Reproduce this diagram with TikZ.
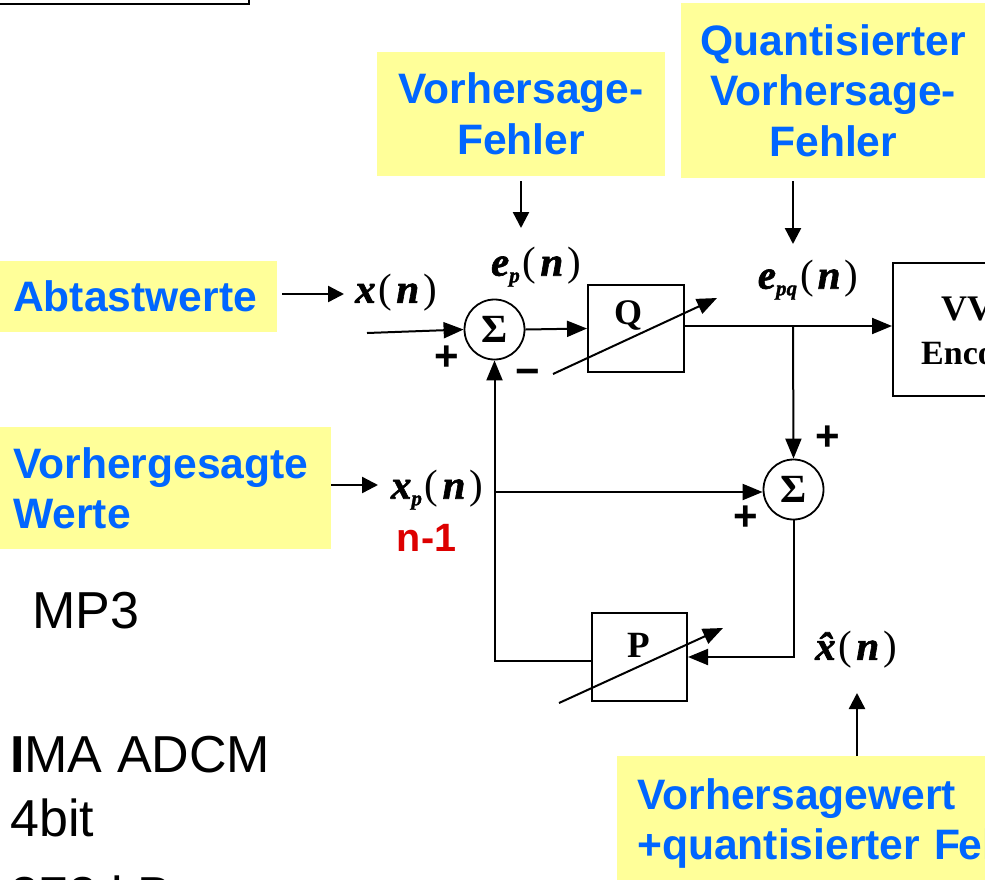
\documentclass[tikz,border=0pt]{standalone}
\usepackage{fontspec}
\setmainfont{Liberation Sans}
\newfontfamily\scanfont{Liberation Serif}
\newfontface\sigface[FakeBold=1.5]{Liberation Serif Bold Italic}
\usetikzlibrary{
  arrows.meta,
  positioning,
}
\definecolor{notefill}{HTML}{FFFF99}
\definecolor{noteblue}{HTML}{0066FF}
\definecolor{notered}{HTML}{DD0000}
\newcommand{\sigfull}[2]{{\sigface #1\raisebox{-.16em}{\fontsize{21}{21}\selectfont #2}{\scanfont\kern3pt(\kern4pt}n{\scanfont\kern4pt)}}}
\tikzset{
  note/.style={
    rectangle,
    fill=notefill,
    text=noteblue,
    inner xsep=0pt,
    inner ysep=0pt,
    font=\fontsize{42.6}{50.5}\selectfont\bfseries,
  },
  plain/.style={
    inner sep=0pt,
    font=\fontsize{52}{62}\selectfont,
  },
  block/.style={
    rectangle,
    draw=black,
    line width=2pt,
    inner sep=0pt,
  },
  sumnode/.style={
    circle,
    draw=black,
    line width=1.8pt,
    minimum size=60pt,
    inner sep=0pt,
    font=\fontsize{40}{40}\selectfont\scanfont\bfseries,
  },
  sig/.style={
    inner sep=0pt,
    font=\fontsize{41}{41}\selectfont,
  },
  sign/.style={
    inner sep=0pt,
    font=\fontsize{42}{42}\selectfont\bfseries,
  },
  arrow/.style={
    line width=2pt,
    -{Triangle[length=20pt,width=16pt]},
  },
  callout/.style={
    line width=2.4pt,
    -{Triangle[length=16pt,width=16pt]},
  },
  wire/.style={
    line width=2pt,
  },
}

\begin{document}
\begin{tikzpicture}[x=1pt,y=-1pt]

  \useasboundingbox (0,0) rectangle (985,879);
  \clip (0,0) rectangle (985,879);

  % Notes
  \node (fehler) [note, minimum width=288pt, minimum height=124pt, align=center] at (521,114) {Vorhersage-\\Fehler};
  \node (qfehler) [note, minimum height=175pt, align=center, anchor=north west, text width=304pt] at (681,3) {Quantisierter\\Vorhersage-\\Fehler};
  \node (abtast) [note, minimum height=71pt, anchor=north west, text width=251pt, inner xsep=13pt] at (0,261) {Abtastwerte};
  \node (werte) [note, minimum height=122pt, anchor=north west, text width=305pt, inner xsep=13pt, align=left] at (0,427) {Vorhergesagte\\Werte};
  \node (summe) [note, minimum height=135pt, anchor=north west, text width=400pt, inner xsep=20pt, align=left] at (617,756) {Vorhersagewert\\+quantisierter F\kern-2pt el};

  % Frame top left
  \node (frame) [rectangle, draw=black, line width=2pt, minimum width=300pt, minimum height=30pt, anchor=south east] at (249.5,5) {};

  % Left texts
  \node (mp3) [plain, anchor=base west] at (32,628) {MP3};
  \node (ima) [plain, anchor=base west] at (10,772) {\textbf{I}MA ADCM};
  \node (bit) [plain, anchor=base west] at (10,836) {4bit};
  \node (size) [plain, anchor=base west] at (10,913) {372 kB};

  % Blocks
  \node (sum_a) [sumnode] at (494.5,329.5) {Σ};
  \node (sum_b) [sumnode] at (793.5,489.5) {Σ};
  \node (q_box) [block, minimum width=96pt, minimum height=87pt] at (636,328.5) {};
  \node (p_box) [block, minimum width=95pt, minimum height=88pt] at (639.5,657) {};
  \node (enc_box) [block, minimum width=220pt, minimum height=133pt, anchor=west] at (892,329.5) {};

  % Block texts
  \node (q_txt) [inner sep=0pt, font=\fontsize{36}{36}\selectfont\scanfont\bfseries] at (628,315) {Q};
  \node (p_txt) [inner sep=0pt, font=\fontsize{37}{37}\selectfont\scanfont\bfseries] at (639,645) {P};
  \node (vv_txt) [inner sep=0pt, anchor=west, font=\fontsize{36}{36}\selectfont\scanfont\bfseries] at (941,309) {VV};
  \node (enc_txt) [inner sep=0pt, anchor=west, font=\fontsize{34}{34}\selectfont\scanfont\bfseries] at (921,354) {Enco};

  % Signals
  \node (x_lab) [sig] at (396,293) {\sigfull{x}{}};
  \node (ep_lab) [sig] at (536,267) {\sigfull{e}{p}};
  \node (epq_lab) [sig] at (808,280) {\sigfull{e}{pq}};
  \node (xp_lab) [sig] at (437,490) {\sigfull{x}{p}};
  \node (xh_lab) [sig] at (856,650) {\sigfull{\^{x}}{}};
  \node (n_lab) [inner sep=0pt, text=notered, font=\fontsize{39.5}{40}\selectfont\bfseries] at (426.5,538) {n-1};

  % Signs
  \node (plus_a) [sign] at (447,358) {+};
  \node (minus_a) [sign] at (528,377) {−};
  \node (plus_b) [sign] at (828,438) {+};
  \node (plus_c) [sign] at (746,518) {+};

  % Points
  \coordinate (x_in) at (367,333);
  \coordinate (junc) at (793,326);
  \coordinate (tap) at (495,492);
  \coordinate (q_start) at (553,374);
  \coordinate (q_end) at (717,298);
  \coordinate (p_start) at (559,703);
  \coordinate (p_end) at (723,628);
  \coordinate (abtast_end) at (344,294);
  \coordinate (werte_end) at (378,485);
  \coordinate (fehler_end) at (521,228);
  \coordinate (qfehler_end) at (793,244);
  \coordinate (summe_end) at (857,693);

  % Arrows
  \draw [arrow] (x_in) -- (sum_a.west);
  \draw [arrow] (sum_a.east) -- (q_box.west);
  \draw [wire] (q_box.east |- junc) -- (junc);
  \draw [arrow] (junc) -- (junc -| enc_box.west);
  \draw [arrow] (junc) -- (sum_b.north);
  \draw [arrow] (sum_b.south) |- (p_box.east);
  \draw [arrow] ([yshift=-4pt]p_box.west) -| (sum_a.south);
  \draw [arrow] (tap) -- (tap -| sum_b.west);
  \draw [arrow] (q_start) -- (q_end);
  \draw [arrow] (p_start) -- (p_end);

  % Notes to signals
  \draw [callout, shorten <=5pt] (abtast.east |- abtast_end) -- (abtast_end);
  \draw [callout] (werte.east |- werte_end) -- (werte_end);
  \draw [callout, shorten <=5pt] (fehler.south) -- (fehler_end);
  \draw [callout, shorten <=3pt] (qfehler.south -| qfehler_end) -- (qfehler_end);
  \draw [callout] (summe.north -| summe_end) -- (summe_end);

\end{tikzpicture}
\end{document}
